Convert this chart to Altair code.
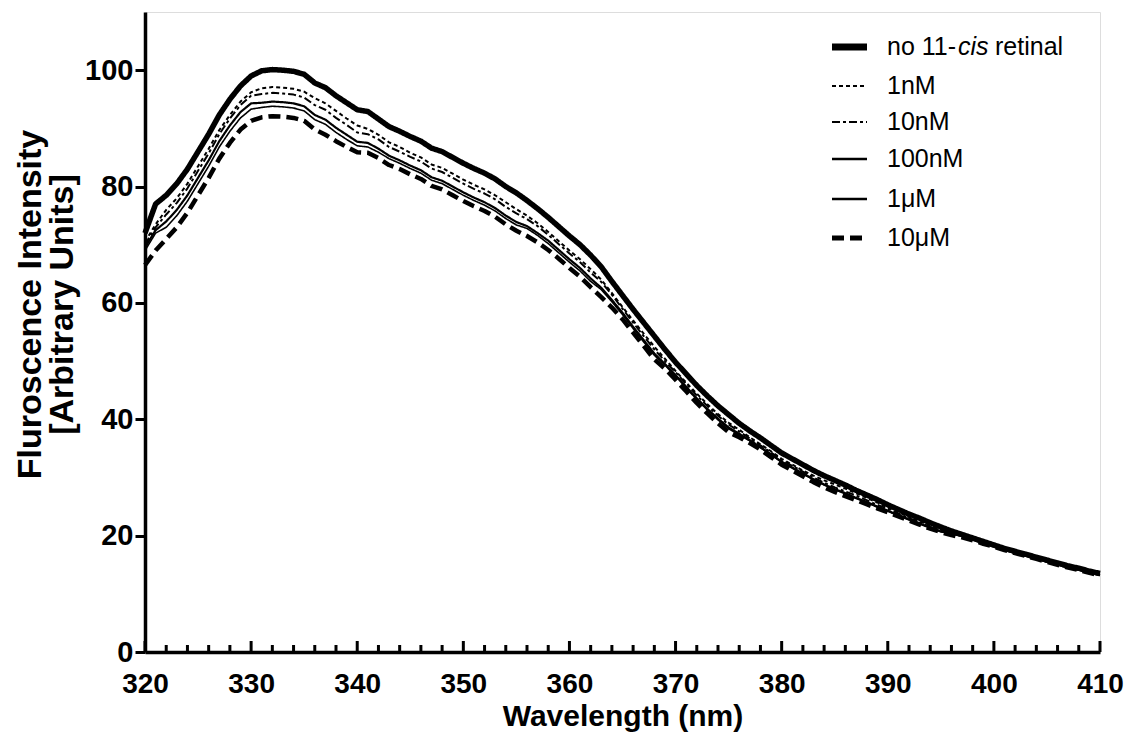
import altair as alt
import pandas as pd

wavelength = list(range(320, 411))

no_retinal = [72.0, 77.0, 78.5, 80.5, 83.0, 86.0, 89.0, 92.3, 95.0, 97.3,
              99.0, 99.9, 100.1, 100.0, 99.8, 99.3, 97.8, 97.0, 95.6, 94.4,
              93.2, 92.9, 91.6, 90.3, 89.5, 88.6, 87.8, 86.6, 86.0, 85.0,
              84.0, 83.1, 82.3, 81.3, 80.0, 78.9, 77.6, 76.2, 74.7, 73.1,
              71.5, 70.0, 68.2, 66.2, 63.7, 61.3, 58.9, 56.6, 54.3, 52.0,
              49.8, 47.8, 45.8, 44.0, 42.3, 40.8, 39.3, 38.0, 36.8, 35.5,
              34.2, 33.2, 32.2, 31.2, 30.3, 29.5, 28.7, 27.8, 27.0, 26.2,
              25.3, 24.5, 23.7, 23.0, 22.2, 21.5, 20.8, 20.2, 19.6, 19.0,
              18.4, 17.8, 17.3, 16.8, 16.3, 15.8, 15.3, 14.8, 14.4, 13.9,
              13.5]

nm1 = [70.5, 73.5, 76.0, 78.0, 80.5, 83.5, 86.5, 89.7, 92.3, 94.6,
       96.2, 96.9, 97.1, 97.0, 96.8, 96.3, 95.2, 94.3, 93.0, 91.7,
       90.5, 89.9, 88.9, 87.6, 86.8, 85.8, 85.0, 83.8, 83.2, 82.2,
       81.2, 80.3, 79.5, 78.5, 77.3, 76.1, 75.0, 73.7, 72.2, 70.6,
       69.0, 67.5, 65.8, 64.0, 61.7, 59.3, 57.0, 54.7, 52.5, 50.4,
       48.3, 46.3, 44.4, 42.6, 40.9, 39.4, 38.2, 36.9, 35.7, 34.5,
       33.2, 32.2, 31.2, 30.3, 29.5, 28.8, 28.1, 27.3, 26.5, 25.7,
       24.8, 24.0, 23.2, 22.5, 21.7, 21.0, 20.6, 20.0, 19.4, 18.8,
       18.2, 17.6, 17.1, 16.6, 16.1, 15.6, 15.1, 14.7, 14.3, 13.8,
       13.4]

nm10 = [70.0, 73.0, 75.2, 77.2, 79.7, 82.7, 85.7, 89.0, 91.7, 94.0,
        95.6, 95.9, 96.1, 96.0, 95.8, 95.3, 94.0, 93.2, 91.8, 90.6,
        89.3, 89.0, 88.1, 86.8, 86.0, 85.1, 84.3, 83.1, 82.5, 81.5,
        80.5, 79.6, 78.8, 77.8, 76.5, 75.4, 74.4, 73.2, 71.7, 70.1,
        68.5, 67.0, 65.2, 63.6, 61.4, 59.0, 56.6, 54.3, 52.0, 50.0,
        48.1, 46.1, 44.1, 42.3, 40.6, 39.1, 37.9, 36.7, 35.5, 34.3,
        33.0, 32.0, 31.0, 30.0, 29.1, 28.3, 27.6, 26.9, 26.1, 25.3,
        24.6, 23.8, 23.0, 22.3, 21.5, 20.9, 20.5, 20.0, 19.4, 18.8,
        18.2, 17.6, 17.1, 16.6, 16.1, 15.6, 15.1, 14.6, 14.2, 13.7,
        13.3]

nm100 = [69.5, 72.5, 74.0, 76.0, 78.5, 81.5, 84.5, 87.8, 90.5, 92.8,
         94.3, 94.4, 94.6, 94.5, 94.3, 93.8, 92.3, 91.5, 90.1, 88.9,
         87.7, 87.5, 86.5, 85.3, 84.5, 83.6, 82.8, 81.6, 81.0, 80.0,
         79.0, 78.1, 77.3, 76.3, 75.0, 73.9, 73.2, 72.0, 70.7, 69.1,
         67.5, 66.0, 64.2, 62.6, 60.5, 58.3, 55.9, 53.6, 51.3, 49.5,
         47.6, 45.6, 43.6, 41.8, 40.1, 38.6, 37.5, 36.4, 35.2, 34.0,
         32.7, 31.7, 30.7, 29.7, 28.8, 28.0, 27.3, 26.5, 25.8, 25.0,
         24.3, 23.5, 22.8, 22.1, 21.4, 20.7, 20.4, 19.9, 19.3, 18.7,
         18.1, 17.5, 17.0, 16.5, 16.0, 15.5, 15.0, 14.5, 14.1, 13.6,
         13.2]

um1 = [69.0, 72.0, 73.0, 75.0, 77.5, 80.5, 83.5, 86.8, 89.5, 91.8,
       93.3, 93.6, 93.8, 93.7, 93.5, 93.0, 91.5, 90.7, 89.3, 88.1,
       87.0, 86.8, 85.9, 84.8, 84.0, 83.1, 82.3, 81.1, 80.5, 79.5,
       78.5, 77.6, 76.8, 75.8, 74.5, 73.4, 72.8, 71.6, 70.2, 68.6,
       67.0, 65.5, 63.7, 62.3, 60.2, 58.0, 55.6, 53.3, 51.0, 49.3,
       47.4, 45.4, 43.4, 41.6, 39.9, 38.4, 37.3, 36.3, 35.1, 33.9,
       32.6, 31.6, 30.6, 29.6, 28.7, 27.9, 27.2, 26.4, 25.7, 24.9,
       24.2, 23.4, 22.7, 22.0, 21.3, 20.7, 20.3, 19.9, 19.3, 18.7,
       18.1, 17.5, 17.0, 16.5, 16.0, 15.5, 15.0, 14.5, 14.1, 13.6,
       13.2]

um10 = [66.5, 69.0, 71.0, 73.0, 75.5, 78.5, 81.5, 84.8, 87.5, 89.8,
        91.3, 91.9, 92.1, 92.0, 91.8, 91.3, 89.8, 88.9, 87.8, 86.8,
        85.9, 85.8, 84.9, 83.7, 83.0, 82.1, 81.3, 80.1, 79.5, 78.5,
        77.5, 76.6, 75.8, 74.8, 73.5, 72.4, 71.5, 70.4, 69.1, 67.6,
        66.0, 64.5, 62.7, 61.0, 59.2, 57.2, 54.9, 52.6, 50.3, 48.7,
        46.8, 44.8, 42.8, 41.0, 39.3, 37.8, 36.9, 35.9, 34.8, 33.5,
        32.2, 31.2, 30.2, 29.2, 28.3, 27.5, 26.8, 26.1, 25.4, 24.7,
        24.0, 23.3, 22.6, 21.9, 21.2, 20.6, 20.1, 19.7, 19.2, 18.6,
        18.1, 17.5, 17.0, 16.5, 16.0, 15.5, 15.0, 14.5, 14.1, 13.6,
        13.2]

series_names = ["no 11-cis retinal", "1nM", "10nM", "100nM", "1μM", "10μM"]
series_values = [no_retinal, nm1, nm10, nm100, um1, um10]

x_major_ticks = [320, 330, 340, 350, 360, 370, 380, 390, 400, 410]
x_minor_ticks = [322, 324, 326, 328, 332, 334, 336, 338, 342, 344, 346, 348,
                 352, 354, 356, 358, 362, 364, 366, 368, 372, 374, 376, 378,
                 382, 384, 386, 388, 392, 394, 396, 398, 402, 404, 406, 408]
y_ticks = [0, 20, 40, 60, 80, 100]

# styles
dashes = [[1, 0], [4, 3], [8, 3, 3, 3], [1, 0], [1, 0], [12, 6]]
widths = [5.5, 2, 2, 2.2, 1.6, 4.5]
legend_widths = [7, 2, 2, 2.5, 2.5, 5]

W, H = 955, 640
FONT = "Liberation Sans"

x_enc = alt.X("wl:Q",
              scale=alt.Scale(domain=[320, 410], nice=False, zero=False),
              axis=alt.Axis(values=x_major_ticks, ticks=False, tickSize=0,
                            labelPadding=18, labelFontSize=28, labelFont=FONT,
                            labelFontWeight="bold", labelColor="black",
                            labelFlush=False, labelOverlap=False,
                            domainColor="black", domainWidth=3.5, grid=False,
                            title="Wavelength (nm)", titleFont=FONT,
                            titleFontSize=30, titleFontWeight="bold",
                            titleColor="black", titleY=73,
                            titleBaseline="alphabetic"))
y_enc = alt.Y("val:Q",
              scale=alt.Scale(domain=[0, 110], nice=False),
              axis=alt.Axis(values=y_ticks, tickSize=10, tickWidth=3,
                            tickColor="black", labelPadding=2,
                            labelFontSize=29, labelFont=FONT,
                            labelFontWeight="bold", labelColor="black",
                            domainColor="black", domainWidth=3.5, grid=False,
                            title=["Fluroscence Intensity", "[Arbitrary Units]"],
                            titleFont=FONT, titleFontSize=34,
                            titleFontWeight="bold", titleColor="black",
                            titleAngle=-90, titleX=-132, titleY=292,
                            titleAlign="center", titleBaseline="top",
                            titleLineHeight=32))

layers = []
for name, vals, d, lw in zip(series_names, series_values, dashes, widths):
    sdf = pd.DataFrame({"wl": wavelength, "val": vals})
    layers.append(
        alt.Chart(sdf).mark_line(color="black", strokeJoin="round").encode(
            x=x_enc, y=y_enc,
            strokeDash=alt.value(d), strokeWidth=alt.value(lw))
    )

major = alt.Chart(pd.DataFrame({"wl": x_major_ticks})).mark_rule(
    color="black", strokeWidth=3).encode(
    x="wl:Q", y=alt.value(H), y2=alt.value(H - 11))
minor = alt.Chart(pd.DataFrame({"wl": x_minor_ticks})).mark_rule(
    color="black", strokeWidth=3).encode(
    x="wl:Q", y=alt.value(H), y2=alt.value(H - 7))
layers += [major, minor]

# manual legend
row_y = [35, 74, 110, 147, 187, 226]
for name, d, lw, yy in zip(series_names, dashes, legend_widths, row_y):
    sym = alt.Chart(pd.DataFrame({"s": [name]})).mark_rule(color="black").encode(
        x=alt.value(687), x2=alt.value(722), y=alt.value(yy),
        strokeDash=alt.value(d), strokeWidth=alt.value(lw))
    layers.append(sym)

legend_text = [
    ("no 11-", 742, row_y[0], "normal"),
    ("cis", 813, row_y[0], "italic"),
    ("retinal", 850, row_y[0], "normal"),
]
for name, yy in zip(series_names[1:], row_y[1:]):
    legend_text.append((name, 742, yy, "normal"))

for txt, xx, yy, style in legend_text:
    t = alt.Chart(pd.DataFrame({"t": [txt]})).mark_text(
        align="left", baseline="middle", font=FONT, fontSize=25,
        fontStyle=style, color="black").encode(
        text="t:N", x=alt.value(xx), y=alt.value(yy))
    layers.append(t)

chart = alt.layer(*layers).properties(
    width=W, height=H,
    padding={"left": 137, "top": 4, "right": 25, "bottom": 82},
    autosize=alt.AutoSizeParams(type="none"),
).configure_view(stroke="black", strokeWidth=3).configure(background="white")

chart.save("out.html", embed_options={"renderer": "svg", "actions": False})
